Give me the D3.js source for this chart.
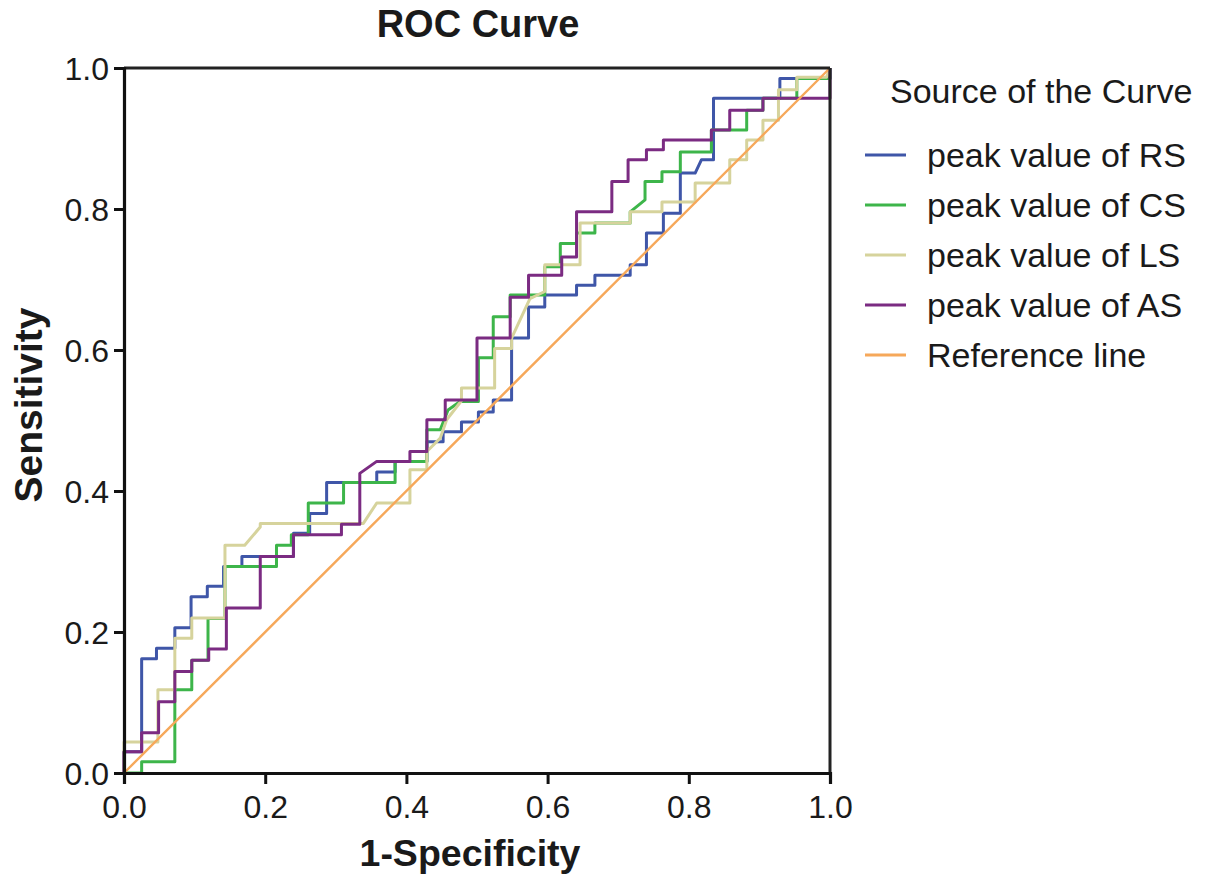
<!DOCTYPE html>
<html>
<head>
<meta charset="utf-8">
<script src="https://cdn.jsdelivr.net/npm/d3@7"></script>
<style>
  html, body { margin: 0; padding: 0; background: #fff; }
  svg { display: block; font-family: "Liberation Sans", Arial, sans-serif; }
</style>
</head>
<body>
<svg id="chart" width="1205" height="886"></svg>
<script>
// ---- data (1-specificity, sensitivity) ----
const seriesNames = ["peak value of RS", "peak value of CS", "peak value of LS", "peak value of AS", "Reference line"];
const seriesColors = ["#3f56a8", "#3db54a", "#d6d39c", "#7b2b82", "#f6a85a"];

const rsPoints = [[0,0],[0,0.030],[0.025,0.030],[0.025,0.162],[0.046,0.162],[0.046,0.177],[0.072,0.177],[0.072,0.206],[0.095,0.206],[0.095,0.250],[0.118,0.250],[0.118,0.265],[0.141,0.265],[0.141,0.293],[0.167,0.293],[0.167,0.307],[0.240,0.307],[0.240,0.340],[0.263,0.340],[0.263,0.368],[0.287,0.368],[0.287,0.412],[0.358,0.412],[0.358,0.427],[0.384,0.427],[0.384,0.442],[0.429,0.442],[0.429,0.470],[0.452,0.470],[0.452,0.484],[0.478,0.484],[0.478,0.498],[0.502,0.498],[0.502,0.512],[0.523,0.512],[0.523,0.529],[0.549,0.529],[0.549,0.617],[0.573,0.617],[0.573,0.661],[0.596,0.661],[0.596,0.678],[0.641,0.678],[0.641,0.692],[0.667,0.692],[0.667,0.706],[0.717,0.706],[0.717,0.721],[0.740,0.721],[0.740,0.766],[0.764,0.766],[0.764,0.794],[0.788,0.794],[0.788,0.851],[0.809,0.851],[0.818,0.870],[0.835,0.870],[0.835,0.957],[0.929,0.957],[0.929,0.985],[1,0.985],[1,1]];

const csPoints = [[0,0],[0.025,0],[0.025,0.016],[0.072,0.016],[0.072,0.118],[0.096,0.118],[0.096,0.160],[0.119,0.160],[0.119,0.219],[0.143,0.219],[0.143,0.293],[0.216,0.293],[0.216,0.323],[0.237,0.323],[0.237,0.338],[0.261,0.338],[0.261,0.383],[0.311,0.383],[0.311,0.412],[0.384,0.412],[0.384,0.442],[0.429,0.442],[0.429,0.487],[0.448,0.487],[0.459,0.515],[0.476,0.527],[0.502,0.527],[0.502,0.589],[0.523,0.589],[0.523,0.647],[0.547,0.647],[0.547,0.678],[0.596,0.678],[0.596,0.718],[0.618,0.718],[0.618,0.751],[0.641,0.751],[0.641,0.766],[0.667,0.766],[0.667,0.780],[0.717,0.780],[0.717,0.796],[0.738,0.813],[0.738,0.839],[0.762,0.839],[0.762,0.853],[0.788,0.853],[0.788,0.881],[0.832,0.881],[0.832,0.912],[0.882,0.912],[0.882,0.940],[0.905,0.940],[0.905,0.957],[0.953,0.957],[0.953,0.985],[1,0.985],[1,1]];

const lsPoints = [[0,0],[0,0.044],[0.048,0.044],[0.048,0.118],[0.072,0.118],[0.072,0.191],[0.096,0.191],[0.096,0.220],[0.143,0.220],[0.143,0.323],[0.171,0.323],[0.193,0.349],[0.193,0.354],[0.339,0.354],[0.358,0.383],[0.405,0.383],[0.405,0.430],[0.429,0.430],[0.429,0.456],[0.448,0.475],[0.457,0.501],[0.478,0.528],[0.478,0.546],[0.525,0.546],[0.525,0.602],[0.549,0.602],[0.549,0.617],[0.575,0.673],[0.596,0.683],[0.596,0.721],[0.646,0.721],[0.646,0.780],[0.717,0.780],[0.717,0.796],[0.762,0.796],[0.762,0.810],[0.809,0.810],[0.809,0.837],[0.858,0.837],[0.858,0.870],[0.882,0.870],[0.882,0.898],[0.905,0.898],[0.905,0.926],[0.927,0.926],[0.927,0.969],[0.953,0.969],[0.953,0.987],[0.995,0.987],[1,1]];

const asPoints = [[0,0],[0,0.030],[0.025,0.030],[0.025,0.057],[0.049,0.057],[0.049,0.101],[0.072,0.101],[0.072,0.144],[0.096,0.144],[0.096,0.160],[0.120,0.160],[0.120,0.176],[0.145,0.176],[0.145,0.234],[0.193,0.234],[0.193,0.307],[0.240,0.307],[0.240,0.338],[0.308,0.338],[0.308,0.353],[0.334,0.353],[0.334,0.425],[0.358,0.442],[0.405,0.442],[0.405,0.456],[0.429,0.456],[0.429,0.501],[0.455,0.501],[0.455,0.529],[0.500,0.529],[0.500,0.617],[0.547,0.617],[0.547,0.675],[0.573,0.675],[0.573,0.706],[0.620,0.706],[0.620,0.732],[0.641,0.732],[0.641,0.796],[0.691,0.796],[0.691,0.839],[0.714,0.839],[0.714,0.870],[0.740,0.870],[0.740,0.884],[0.764,0.884],[0.764,0.898],[0.832,0.898],[0.832,0.912],[0.858,0.912],[0.858,0.940],[0.905,0.940],[0.905,0.957],[1,0.957],[1,1]];

const refPoints = [[0,0],[1,1]];

const tickValues = [0, 0.2, 0.4, 0.6, 0.8, 1.0];
const titleText = "ROC Curve";
const xTitle = "1-Specificity";
const yTitle = "Sensitivity";
const legendTitle = "Source of the Curve";

// ---- layout ----
(function () {
  const svg = d3.select("#chart");
  const pLeft = 124, pRight = 830, pTop = 68, pBottom = 773;
  const x = d3.scaleLinear().domain([0, 1]).range([pLeft, pRight]);
  const y = d3.scaleLinear().domain([0, 1]).range([pBottom, pTop]);

  const allSeries = [rsPoints, csPoints, lsPoints, asPoints, refPoints];
  const line = d3.line().x(d => x(d[0])).y(d => y(d[1]));

  const plot = svg.append("g");
  allSeries.forEach((pts, i) => {
    plot.append("path")
      .datum(pts)
      .attr("d", line)
      .attr("fill", "none")
      .attr("stroke", seriesColors[i])
      .attr("stroke-width", i === 4 ? 2.4 : 3)
      .attr("stroke-linejoin", "round");
  });

  // frame (top and right)
  svg.append("line").attr("x1", pLeft).attr("x2", pRight).attr("y1", pTop).attr("y2", pTop)
    .attr("stroke", "#222").attr("stroke-width", 3);
  svg.append("line").attr("x1", pRight).attr("x2", pRight).attr("y1", pTop).attr("y2", pBottom)
    .attr("stroke", "#222").attr("stroke-width", 3);

  // axes
  const xAxis = d3.axisBottom(x).tickValues(tickValues).tickFormat(d3.format(".1f")).tickSize(11).tickPadding(4);
  const yAxis = d3.axisLeft(y).tickValues(tickValues).tickFormat(d3.format(".1f")).tickSize(10).tickPadding(5);

  const gx = svg.append("g").attr("transform", `translate(0,${pBottom})`).call(xAxis);
  const gy = svg.append("g").attr("transform", `translate(${pLeft},0)`).call(yAxis);
  [gx, gy].forEach(g => {
    g.select(".domain").attr("stroke", "#111").attr("stroke-width", 3.2);
    g.selectAll(".tick line").attr("stroke", "#111").attr("stroke-width", 3);
    g.selectAll(".tick text").attr("fill", "#1a1a1a").style("font-size", "32px")
      .style("font-family", "'Liberation Sans', Arial, sans-serif");
  });
  gx.selectAll(".tick text").attr("dy", "0.93em");
  gy.selectAll(".tick text").attr("dy", "0.36em");

  // titles
  svg.append("text").attr("x", 478).attr("y", 37).attr("text-anchor", "middle")
    .attr("font-weight", "bold").attr("font-size", 38).attr("fill", "#1a1a1a").text(titleText);
  svg.append("text").attr("x", 470).attr("y", 866).attr("text-anchor", "middle")
    .attr("font-weight", "bold").attr("font-size", 37.5).attr("fill", "#1a1a1a").text(xTitle);
  svg.append("text").attr("transform", "translate(42,405) rotate(-90)").attr("text-anchor", "middle")
    .attr("font-weight", "bold").attr("font-size", 39).attr("fill", "#1a1a1a").text(yTitle);

  // legend
  const lg = svg.append("g");
  lg.append("text").attr("x", 890).attr("y", 103).attr("font-size", 34).attr("fill", "#1a1a1a").text(legendTitle);
  seriesNames.forEach((name, i) => {
    const cy = 155 + i * 50;
    lg.append("line").attr("x1", 865).attr("x2", 906).attr("y1", cy).attr("y2", cy)
      .attr("stroke", seriesColors[i]).attr("stroke-width", 3);
    lg.append("text").attr("x", 927).attr("y", cy + 12).attr("font-size", 34).attr("fill", "#1a1a1a").text(name);
  });
})();
</script>
</body>
</html>
